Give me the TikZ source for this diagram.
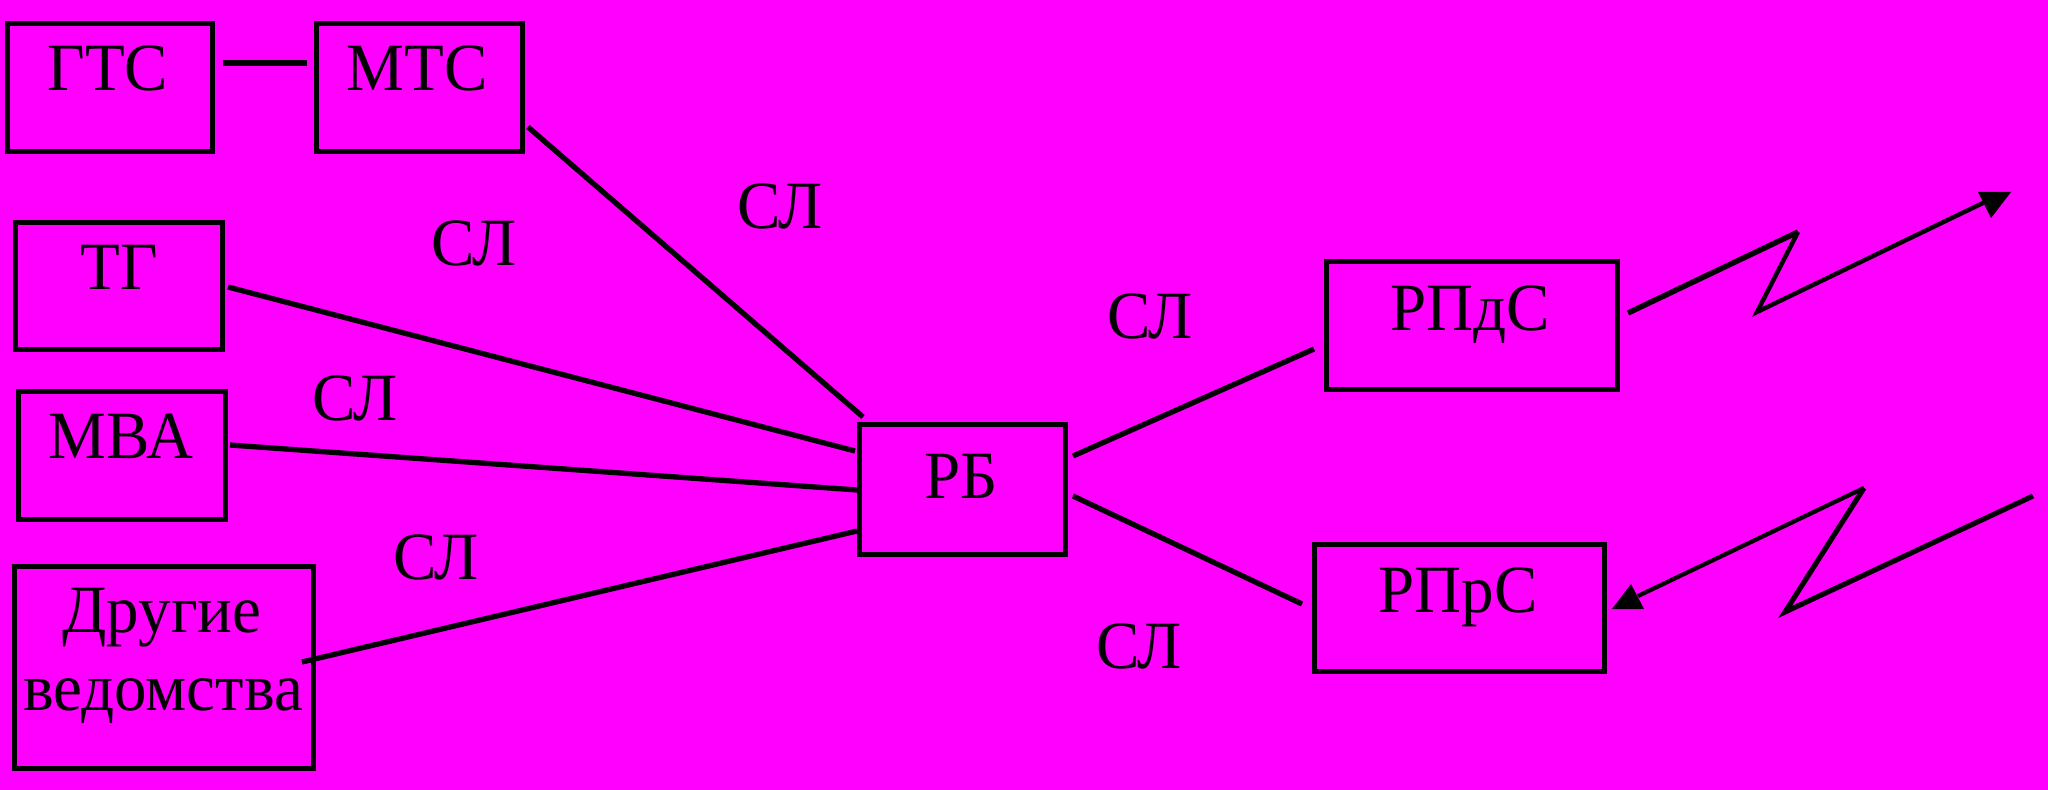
\documentclass[tikz,border=0pt]{standalone}
\usepackage{fontspec}
\setmainfont{Liberation Serif}
\definecolor{bgmag}{RGB}{255,0,255}
\tikzset{
  boxst/.style={draw=black, line width=3pt, inner sep=0pt},
  txt/.style={anchor=base, inner sep=0pt, font=\fontsize{37}{44.4}\selectfont, text=black, yscale=1.04},
  wire/.style={draw=black, line width=3pt},
  zig/.style={draw=black, line width=#1, line cap=butt},
  zig/.default=2.4pt,
  tip/.style={fill=black}
}
\begin{document}
\begin{tikzpicture}[x=0.02cm, y=-0.02cm]
\fill[bgmag] (0,0) rectangle (2048,790);
\useasboundingbox (0,0) rectangle (2048,790);
% boxes
\node[boxst, minimum width=4.10cm, minimum height=2.56cm] (gts) at (110,87.5) {};
\node[boxst, minimum width=4.12cm, minimum height=2.56cm] (mts) at (419.5,87.5) {};
\node[boxst, minimum width=4.14cm, minimum height=2.54cm] (tg) at (119,286) {};
\node[boxst, minimum width=4.14cm, minimum height=2.56cm] (mva) at (122,455.5) {};
\node[boxst, minimum width=5.98cm, minimum height=4.04cm] (dr) at (164,667.5) {};
\node[boxst, minimum width=4.12cm, minimum height=2.60cm] (rb) at (962.5,489.5) {};
\node[boxst, minimum width=5.82cm, minimum height=2.56cm] (rpds) at (1472,325.5) {};
\node[boxst, minimum width=5.80cm, minimum height=2.54cm] (rprs) at (1459.5,608) {};
% box texts
\node[txt] (tgts) at (108,91) {ГТС};
\node[txt] (tmts) at (417,91) {МТС};
\node[txt] (ttg) at (119,290) {ТГ};
\node[txt] (tmva) at (121,458) {МВА};
\node[txt] (tdr1) at (162,632) {Другие};
\node[txt] (tdr2) at (163,710) {ведомства};
\node[txt] (trb) at (961,498) {РБ};
\node[txt] (trpds) at (1470,331) {РПдС};
\node[txt] (trprs) at (1458,612) {РПрС};
% СЛ labels
\node[txt] (l1) at (780,229) {СЛ};
\node[txt] (l2) at (474,266) {СЛ};
\node[txt] (l3) at (355,420) {СЛ};
\node[txt] (l4) at (436,579) {СЛ};
\node[txt] (l5) at (1150,338) {СЛ};
\node[txt] (l6) at (1139,668) {СЛ};
% connector end points
\coordinate (a1) at (223,63);
\coordinate (a2) at (307,63);
\coordinate (m1) at (528,127);
\coordinate (m2) at (863,417);
\coordinate (t1) at (228,287);
\coordinate (t2) at (855,451);
\coordinate (v1) at (230,445);
\coordinate (v2) at (857,490);
\coordinate (d1) at (302,662);
\coordinate (d2) at (857,531);
\coordinate (p1) at (1073,456);
\coordinate (p2) at (1314,349);
\coordinate (r1) at (1073,496);
\coordinate (r2) at (1302,604);
% radio zigzags
\coordinate (z1) at (1628,313);
\coordinate (z2) at (1798,232);
\coordinate (z3) at (1757,312);
\coordinate (z4) at (1985,202);
\coordinate (w1) at (2033,496);
\coordinate (w2) at (1785,612);
\coordinate (w3) at (1864,488);
\coordinate (w4) at (1638,596);
% connectors
\draw[wire] (a1) -- (a2);
\draw[wire] (m1) -- (m2);
\draw[wire] (t1) -- (t2);
\draw[wire] (v1) -- (v2);
\draw[wire] (d1) -- (d2);
\draw[wire] (p1) -- (p2);
\draw[wire] (r1) -- (r2);
% transmit zigzag
\draw[zig=3.1pt] (z1) -- (z2);
\draw[zig=2.5pt, line join=miter] (z2) -- (z3) -- (z4);
\fill[tip] (1978,192) -- (2011,192) -- (1991,218) -- cycle;
% receive zigzag
\draw[zig=2.9pt, line join=miter] (w1) -- (w2) -- (w3);
\draw[zig=2.4pt] (w3) -- (w4);
\fill[tip] (1612,609) -- (1644,609) -- (1631,584) -- cycle;
\end{tikzpicture}
\end{document}
